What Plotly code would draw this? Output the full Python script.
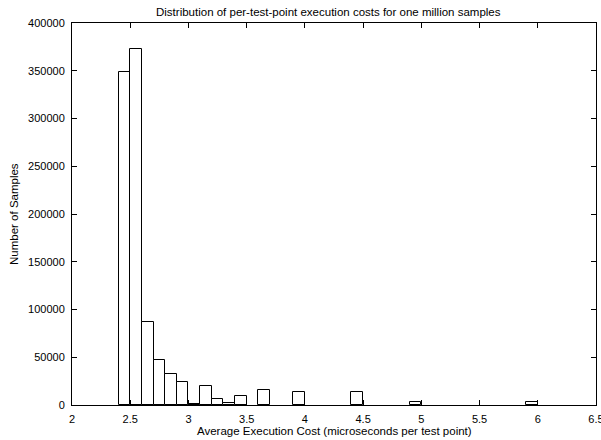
import plotly.graph_objects as go

# Bin centers (microseconds per test point) and sample counts
bin_centers = [2.45, 2.55, 2.65, 2.75, 2.85, 2.95, 3.05, 3.15, 3.25, 3.35, 3.45, 3.65, 3.95, 4.45, 4.95, 5.95]
counts = [349000, 373000, 87200, 47400, 32100, 24100, 800, 20200, 6600, 2400, 9400, 15400, 13300, 13300, 2800, 3500]
bin_width = 0.1

x_ticks = [2, 2.5, 3, 3.5, 4, 4.5, 5, 5.5, 6, 6.5]
x_tick_labels = ["2", "2.5", "3", "3.5", "4", "4.5", "5", "5.5", "6", "6.5"]
y_ticks = [0, 50000, 100000, 150000, 200000, 250000, 300000, 350000, 400000]
y_tick_labels = [str(v) for v in y_ticks]

title_text = "Distribution of per-test-point execution costs for one million samples"
x_title = "Average Execution Cost (microseconds per test point)"
y_title = "Number of Samples"

FONT = "Liberation Sans, Arial, Helvetica, sans-serif"
FS_TICK = 11
FS_TEXT = 11.5

fig = go.Figure()
fig.add_trace(go.Bar(
    x=bin_centers,
    y=counts,
    width=[bin_width] * len(bin_centers),
    marker=dict(color="white", line=dict(color="black", width=1)),
    showlegend=False,
))

axis_common = dict(
    showline=True, linecolor="black", linewidth=1, mirror="ticks",
    ticks="inside", ticklen=5, tickwidth=1, tickcolor="black",
    showgrid=False, zeroline=False, ticklabeloverflow="allow", automargin=False,
    tickfont=dict(family=FONT, size=FS_TICK, color="black"),
)

fig.update_layout(
    template="none",
    width=601, height=440,
    margin=dict(l=72, r=5, t=23, b=35, pad=0),
    paper_bgcolor="white", plot_bgcolor="white",
    bargap=0,
    xaxis=dict(range=[2, 6.5], tickvals=x_ticks, ticktext=x_tick_labels,
               ticklabelstandoff=4, **axis_common),
    yaxis=dict(range=[0, 400000], tickvals=y_ticks, ticktext=y_tick_labels,
               ticklabelstandoff=4, **axis_common),
    annotations=[
        dict(text=title_text, x=0.49, xref="paper", y=1, yref="paper", yshift=11, showarrow=False,
             font=dict(family=FONT, size=FS_TEXT, color="black"), yanchor="middle"),
        dict(text=x_title, x=0.5, xref="paper", y=0, yref="paper", yshift=-26, showarrow=False,
             font=dict(family=FONT, size=FS_TEXT, color="black"), yanchor="middle"),
        dict(text=y_title, x=0, xref="paper", y=0.5, yref="paper", xshift=-58, showarrow=False,
             textangle=-90, font=dict(family=FONT, size=FS_TEXT, color="black"), xanchor="center"),
    ],
)

fig.write_html("out.html")
